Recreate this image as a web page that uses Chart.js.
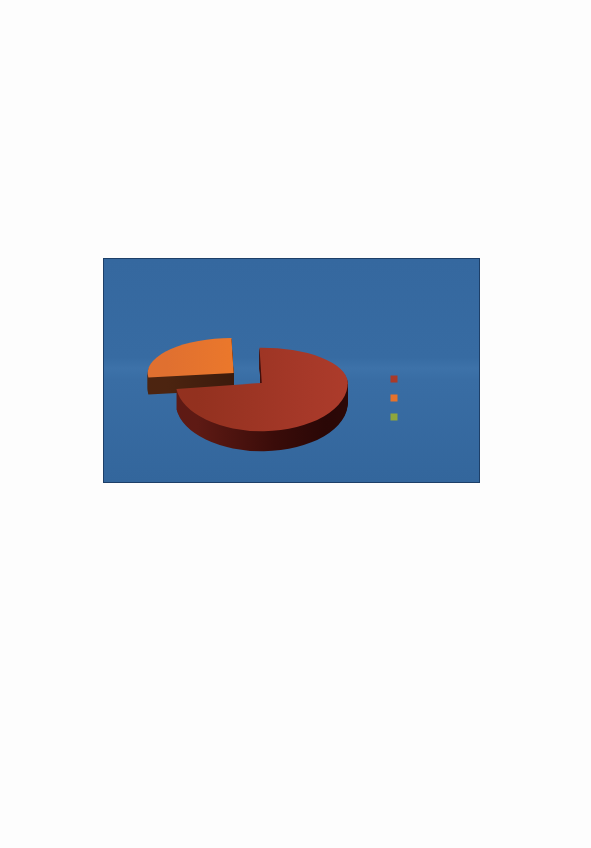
<!DOCTYPE html>
<html>
<head>
<meta charset="utf-8">
<script src="https://cdn.jsdelivr.net/npm/chart.js@4"></script>
<style>
  html, body { margin: 0; padding: 0; background: #fdfdfd; }
  #panel {
    position: absolute; left: 103px; top: 258px; width: 377px; height: 225px;
    box-sizing: border-box; border: 1px solid #1d3f68; filter: blur(0.7px);
    background: linear-gradient(180deg, #35689f 0%, #376ba2 44%, #3d72a9 49%, #396da4 54%, #33669c 100%);
  }
  #panelChart { position: absolute; left: -1px; top: -1px; }
</style>
</head>
<body>
<div id="panel"><canvas id="panelChart" width="377" height="225"></canvas></div>
<script>
// no category names are visible in the scan, legend only shows the boxes
const categories = ["", "", ""];
const values = [73.4, 26.6, 0];
const sliceColors = ["#a93a29", "#e5722b", "#8fa63c"];
const sliceOffsets = [0, 37, 0];

// fake 3D: the flat pie is squashed, more in the back half than the front
const tilt = { backScale: 0.41, frontScale: 0.56, depth: 20, orangeDepth: 17, shiftX: 21, shiftY: -15 };

function slicePath(ctx, el, off) {
  const mid = (el.startAngle + el.endAngle) / 2;
  const x = el.x + Math.cos(mid) * off;
  const y = el.y + Math.sin(mid) * off;
  ctx.beginPath();
  ctx.moveTo(x, y);
  ctx.arc(x, y, el.outerRadius, el.startAngle, el.endAngle);
  ctx.closePath();
}

function drawSquashed(ctx, chart, el, off, dy, fill) {
  const cy = el.y + tilt.shiftY + dy;
  const parts = [
    { top: 0, height: cy + 0.5, scale: tilt.backScale },
    { top: cy, height: chart.height - cy, scale: tilt.frontScale }
  ];
  parts.forEach(function (part) {
    ctx.save();
    ctx.beginPath();
    ctx.rect(0, part.top, chart.width, part.height);
    ctx.clip();
    ctx.translate(tilt.shiftX, cy);
    ctx.scale(1, part.scale);
    ctx.translate(0, -el.y);
    slicePath(ctx, el, off);
    ctx.fillStyle = fill;
    ctx.fill();
    ctx.restore();
  });
}

const tiltPlugin = {
  id: "tilt",
  beforeDatasetsDraw(chart) {
    const ctx = chart.ctx;
    const arcs = chart.getDatasetMeta(0).data;
    const cx = arcs[0].x + tilt.shiftX;
    const r = arcs[0].outerRadius;

    const redSide = ctx.createLinearGradient(cx - r, 0, cx + r, 0);
    redSide.addColorStop(0, "#5e1a14");
    redSide.addColorStop(0.45, "#3a0c09");
    redSide.addColorStop(0.75, "#2a0706");
    redSide.addColorStop(1, "#2e0a08");
    const orangeSide = ctx.createLinearGradient(cx - r - 30, 0, cx - 30, 0);
    orangeSide.addColorStop(0, "#4c2410");
    orangeSide.addColorStop(1, "#38180b");
    const redTop = ctx.createLinearGradient(cx - r, 0, cx + r, 0);
    redTop.addColorStop(0, "#93311f");
    redTop.addColorStop(0.6, "#a53828");
    redTop.addColorStop(1, "#b03d2c");
    const orangeTop = ctx.createLinearGradient(cx - r - 30, 0, cx - 30, 0);
    orangeTop.addColorStop(0, "#e07030");
    orangeTop.addColorStop(1, "#ee7a2a");

    // orange first, the red top edge sits in front of its side wall
    for (let d = tilt.orangeDepth; d > 0; d--) drawSquashed(ctx, chart, arcs[1], sliceOffsets[1], d, orangeSide);
    drawSquashed(ctx, chart, arcs[1], sliceOffsets[1], 0, orangeTop);
    for (let d = tilt.depth; d > 0; d--) drawSquashed(ctx, chart, arcs[0], sliceOffsets[0], d, redSide);
    drawSquashed(ctx, chart, arcs[0], sliceOffsets[0], 0, redTop);
    return false;
  }
};

new Chart(document.getElementById("panelChart"), {
  type: "pie",
  data: {
    labels: categories,
    datasets: [{
      data: values,
      backgroundColor: sliceColors,
      offset: sliceOffsets,
      radius: 86,
      borderWidth: 0
    }]
  },
  options: {
    responsive: false,
    animation: false,
    rotation: -1.5,
    layout: { padding: { top: 55, right: 69 } },
    plugins: {
      tooltip: { enabled: false },
      legend: {
        position: "right",
        labels: { boxWidth: 7, boxHeight: 7, padding: 12, font: { size: 7 } }
      }
    }
  },
  plugins: [tiltPlugin]
});
</script>
</body>
</html>
